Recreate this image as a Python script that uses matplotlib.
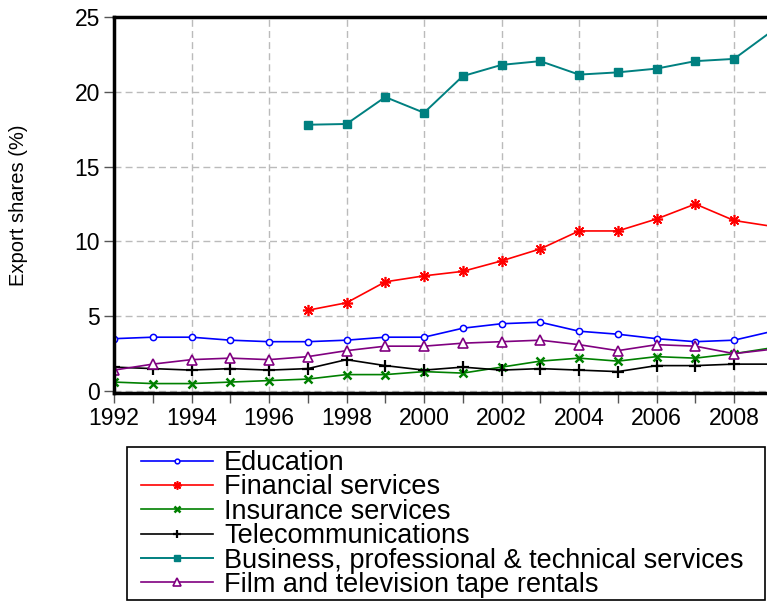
import numpy as np
import matplotlib
matplotlib.use("Agg")
import matplotlib.pyplot as plt
from matplotlib.ticker import MultipleLocator
from matplotlib.patches import Rectangle

plt.rcParams['font.family'] = ['Liberation Sans', 'DejaVu Sans']

years = list(range(1992, 2010))
fin_years = list(range(1997, 2010))

education = [3.5, 3.6, 3.6, 3.4, 3.3, 3.3, 3.4, 3.6, 3.6, 4.2, 4.5, 4.6, 4.0, 3.8, 3.5, 3.3, 3.4, 4.0]
financial = [5.4, 5.9, 7.3, 7.7, 8.0, 8.7, 9.5, 10.7, 10.7, 11.5, 12.5, 11.4, 11.0]
insurance = [0.6, 0.5, 0.5, 0.6, 0.7, 0.8, 1.1, 1.1, 1.3, 1.2, 1.6, 2.0, 2.2, 2.0, 2.3, 2.2, 2.5, 2.9]
telecom = [1.6, 1.5, 1.4, 1.5, 1.4, 1.5, 2.1, 1.7, 1.4, 1.6, 1.4, 1.5, 1.4, 1.3, 1.7, 1.7, 1.8, 1.8]
business = [17.8, 17.85, 19.65, 18.6, 21.05, 21.8, 22.05, 21.15, 21.3, 21.55, 22.05, 22.2, 24.1]
film = [1.4, 1.8, 2.1, 2.2, 2.1, 2.3, 2.7, 3.0, 3.0, 3.2, 3.3, 3.4, 3.1, 2.7, 3.1, 3.0, 2.5, 2.8]

labels = ['Education', 'Financial services', 'Insurance services', 'Telecommunications',
          'Business, professional & technical services', 'Film and television tape rentals']

W, H = 767, 603
fig = plt.figure(figsize=(W / 100, H / 100), dpi=100)
ax = fig.add_axes([114 / W, 1 - 393 / H, 653 / W, 376 / H])

ax.plot(years, education, color='blue', lw=1.2, marker='o', ms=4.5, mfc='white', mec='blue', mew=1.1, label=labels[0])
ax.plot(fin_years, financial, color='red', lw=1.2, marker=(8, 2, 0), ms=8, mec='red', mew=1.2, label=labels[1])
ax.plot(years, insurance, color='green', lw=1.2, marker='x', ms=6, mec='green', mew=1.8, label=labels[2])
ax.plot(years, telecom, color='black', lw=1.2, marker='+', ms=8, mec='black', mew=1.6, label=labels[3])
ax.plot(fin_years, business, color='#008080', lw=1.4, marker='s', ms=6, mfc='#008080', mec='#008080', label=labels[4])
ax.plot(years, film, color='purple', lw=1.2, marker='^', ms=7, mfc='white', mec='purple', mew=1.2, label=labels[5])

ax.set_xlim(1992, 2008.85)
ax.set_ylim(-0.13, 25)
ax.xaxis.set_major_locator(MultipleLocator(2))
ax.xaxis.set_minor_locator(MultipleLocator(1))
ax.yaxis.set_major_locator(MultipleLocator(5))
ax.tick_params(axis='both', which='major', labelsize=16.5, direction='out', length=7, width=1, color='#555555', pad=3)
ax.tick_params(axis='x', which='minor', direction='out', length=7, width=1, color='#555555')
ax.grid(True, which='major', color='#bbbbbb', linestyle=(0, (5, 3)), lw=1)
ax.set_axisbelow(True)

for side in ['left', 'top', 'bottom']:
    ax.spines[side].set_linewidth(2.5)
    ax.spines[side].set_color('black')
ax.spines['right'].set_visible(False)

ax.set_ylabel('Export shares (%)', fontsize=14.5)
ax.yaxis.set_label_coords(-0.131, 0.5)

# legend box drawn separately so the padding can differ left/top
fig.patches.append(Rectangle((127 / W, 1 - 600 / H), 638 / W, 153 / H, transform=fig.transFigure,
                             fill=False, edgecolor='black', lw=1.2))
leg = fig.legend(loc='upper left', bbox_to_anchor=(141 / W, 1 - 450 / H), frameon=False,
                 fontsize=19.5, handlelength=2.65, labelspacing=-0.06, handletextpad=0.42,
                 borderpad=0, borderaxespad=0, markerscale=0.75)

fig.savefig('out.png', dpi=100)
